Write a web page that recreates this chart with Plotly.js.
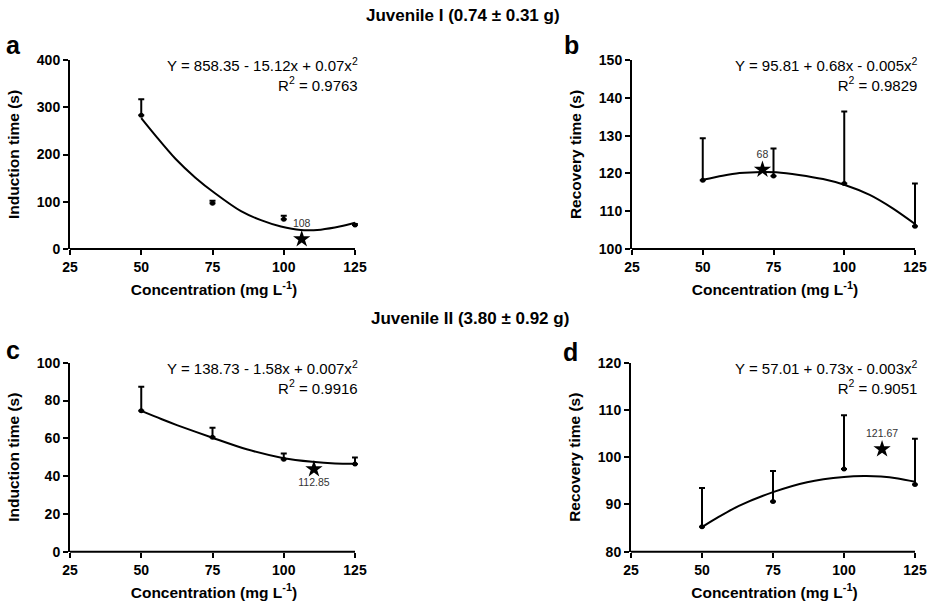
<!DOCTYPE html>
<html>
<head>
<meta charset="utf-8">
<script src="https://cdn.plot.ly/plotly-3.0.1.min.js"></script>
<style>html,body{margin:0;padding:0;background:#fff;}#chart{width:933px;height:603px;}</style>
</head>
<body>
<div id="chart"></div>
<script>
// ---- data ----
const conc = [50, 75, 100, 125];
const tickVals = [25, 50, 75, 100, 125];

// Juvenile I
const indI_mean = [283, 97, 63, 51];
const indI_err  = [34, 5, 7.5, 2];
const recI_mean = [118.2, 119.3, 117.3, 106.0];
const recI_err  = [11.1, 7.3, 19.1, 11.3];
// Juvenile II
const indII_mean = [74.6, 60.5, 48.9, 46.4];
const indII_err  = [12.7, 5.1, 3.1, 3.5];
const recII_mean = [85.3, 90.6, 97.5, 94.2];
const recII_err  = [8.2, 6.5, 11.4, 9.7];

// fitted curves
const fitAx = [50, 55, 62, 69, 76, 85, 92, 99, 106, 113, 120, 125];
const fitAy = [277, 240, 191, 151, 117.4, 80, 61, 47.5, 40, 41, 48, 55.7];
const fitBx = [50, 57, 63, 71, 76, 84, 92.5, 100, 109, 117, 125];
const fitBy = [118.3, 119.4, 120.1, 120.4, 120.3, 119.6, 118.5, 117, 114.3, 110.8, 106.6];
const fitCx = [50, 57, 62.5, 75, 87, 100, 110, 118, 125];
const fitCy = [74.5, 70.2, 67, 60.3, 54.2, 49.5, 47.6, 46.7, 46.5];
const fitDx = [50, 56, 63, 75, 87, 100, 107, 113, 119, 125];
const fitDy = [85.2, 87.4, 89.7, 92.6, 94.7, 95.8, 96, 95.9, 95.5, 94.8];

// optimum (star) points
const starA = {x: 106.3, y: 21, label: "108"};
const starB = {x: 71.1, y: 121, label: "68"};
const starC = {x: 110.6, y: 43.7, label: "112.85"};
const starD = {x: 113.4, y: 101.7, label: "121.67"};

const equations = [
  ["Y = 858.35 - 15.12x + 0.07x<sup>2</sup>", "R<sup>2</sup> = 0.9763"],
  ["Y = 95.81 + 0.68x - 0.005x<sup>2</sup>", "R<sup>2</sup> = 0.9829"],
  ["Y = 138.73 - 1.58x + 0.007x<sup>2</sup>", "R<sup>2</sup> = 0.9916"],
  ["Y = 57.01 + 0.73x - 0.003x<sup>2</sup>", "R<sup>2</sup> = 0.9051"]
];

// ---- build ----
const FONT = "Liberation Sans, Arial, sans-serif";
const W = 933, H = 603;
const XMAX = 126; // small extra room so the last error cap is not clipped
const panels = [
  {mean: indI_mean, err: indI_err, fx: fitAx, fy: fitAy, star: starA, starPos: "top center", ax: "", yr: [0, 400], dt: 100, ytitle: "Induction time (s)", px: [70, 355], py: [60, 249]},
  {mean: recI_mean, err: recI_err, fx: fitBx, fy: fitBy, star: starB, starPos: "top center", ax: "2", yr: [100, 150], dt: 10, ytitle: "Recovery time (s)", px: [632, 915], py: [60, 249]},
  {mean: indII_mean, err: indII_err, fx: fitCx, fy: fitCy, star: starC, starPos: "bottom center", ax: "3", yr: [0, 100], dt: 20, ytitle: "Induction time (s)", px: [70, 355], py: [362.7, 551.7]},
  {mean: recII_mean, err: recII_err, fx: fitDx, fy: fitDy, star: starD, starPos: "top center", ax: "4", yr: [80, 120], dt: 10, ytitle: "Recovery time (s)", px: [631, 915], py: [362.7, 551.7]}
];

const traces = [];
const layout = {
  width: W, height: H,
  margin: {l: 0, r: 0, t: 0, b: 0},
  paper_bgcolor: "#fff", plot_bgcolor: "#fff",
  showlegend: false,
  font: {family: FONT, color: "#000"},
  annotations: [],
  shapes: []
};

panels.forEach((p, i) => {
  const xa = "x" + p.ax, ya = "y" + p.ax;
  traces.push({
    x: p.fx, y: p.fy, xaxis: xa, yaxis: ya, type: "scatter", mode: "lines",
    line: {color: "#000", width: 2, shape: "spline", smoothing: 0.8}, hoverinfo: "skip", cliponaxis: false
  });
  traces.push({
    x: conc, y: p.mean, xaxis: xa, yaxis: ya, type: "scatter", mode: "markers",
    marker: {color: "#000", size: 5},
    error_y: {type: "data", symmetric: false, array: p.err, arrayminus: p.err.map(() => 0), color: "#000", thickness: 2, width: 3},
    cliponaxis: false
  });
  traces.push({
    x: [p.star.x], y: [p.star.y], xaxis: xa, yaxis: ya, type: "scatter", mode: "markers+text",
    marker: {symbol: "star", color: "#000", size: 13},
    text: [p.star.label], textposition: p.starPos,
    textfont: {family: FONT, size: 10.5, color: "#333"}, cliponaxis: false
  });
  const xkey = "xaxis" + p.ax, ykey = "yaxis" + p.ax;
  const pxRight = p.px[0] + (p.px[1] - p.px[0]) * (XMAX - 25) / 100;
  layout[xkey] = {
    domain: [p.px[0] / W, pxRight / W], anchor: ya, range: [25, XMAX],
    tickvals: tickVals, ticks: "outside", ticklen: 5, tickwidth: 2, tickcolor: "#000",
    showline: false, showgrid: false, zeroline: false,
    tickfont: {family: FONT, size: 14, color: "#000", weight: "bold"},
    title: {text: "<b>Concentration (mg L<sup>-1</sup>)</b>", font: {family: FONT, size: 15.5, color: "#000"}, standoff: 10},
    automargin: false
  };
  layout[ykey] = {
    domain: [1 - p.py[1] / H, 1 - p.py[0] / H], anchor: xa, range: p.yr, dtick: p.dt,
    ticks: "outside", ticklen: 5, tickwidth: 2, tickcolor: "#000",
    showline: true, linewidth: 2, linecolor: "#000", showgrid: false, zeroline: false,
    tickfont: {family: FONT, size: 14, color: "#000", weight: "bold"},
    title: {text: "<b>" + p.ytitle + "</b>", font: {family: FONT, size: 15.5, color: "#000"}, standoff: 13},
    automargin: false
  };
  // x axis line from 25 to 125
  layout.shapes.push({type: "line", xref: xa, yref: ya + " domain", x0: 25, x1: 125, y0: 0, y1: 0,
    line: {color: "#000", width: 2}});
  // equations
  layout.annotations.push({
    xref: "paper", yref: "paper", x: (p.px[1] + 5) / W, y: 1 - (p.py[0] - 7) / H,
    xanchor: "right", yanchor: "top", align: "right", showarrow: false,
    text: equations[i][0] + "<br>" + equations[i][1],
    font: {family: FONT, size: 15, color: "#000"}
  });
});

// panel letters
[["a", 13, 45], ["b", 571, 45], ["c", 13, 350], ["d", 570, 352]].forEach(l => {
  layout.annotations.push({xref: "paper", yref: "paper", x: l[1] / W, y: 1 - l[2] / H, xanchor: "center", yanchor: "middle",
    showarrow: false, text: "<b>" + l[0] + "</b>", font: {family: FONT, size: 25, color: "#000"}});
});
// group titles
[["Juvenile I (0.74 ± 0.31 g)", 463, 16], ["Juvenile II (3.80 ± 0.92 g)", 470, 318]].forEach(t => {
  layout.annotations.push({xref: "paper", yref: "paper", x: t[1] / W, y: 1 - t[2] / H, xanchor: "center", yanchor: "middle",
    showarrow: false, text: "<b>" + t[0] + "</b>", font: {family: FONT, size: 17, color: "#000"}});
});

Plotly.newPlot("chart", traces, layout, {displayModeBar: false, staticPlot: true});
</script>
</body>
</html>
